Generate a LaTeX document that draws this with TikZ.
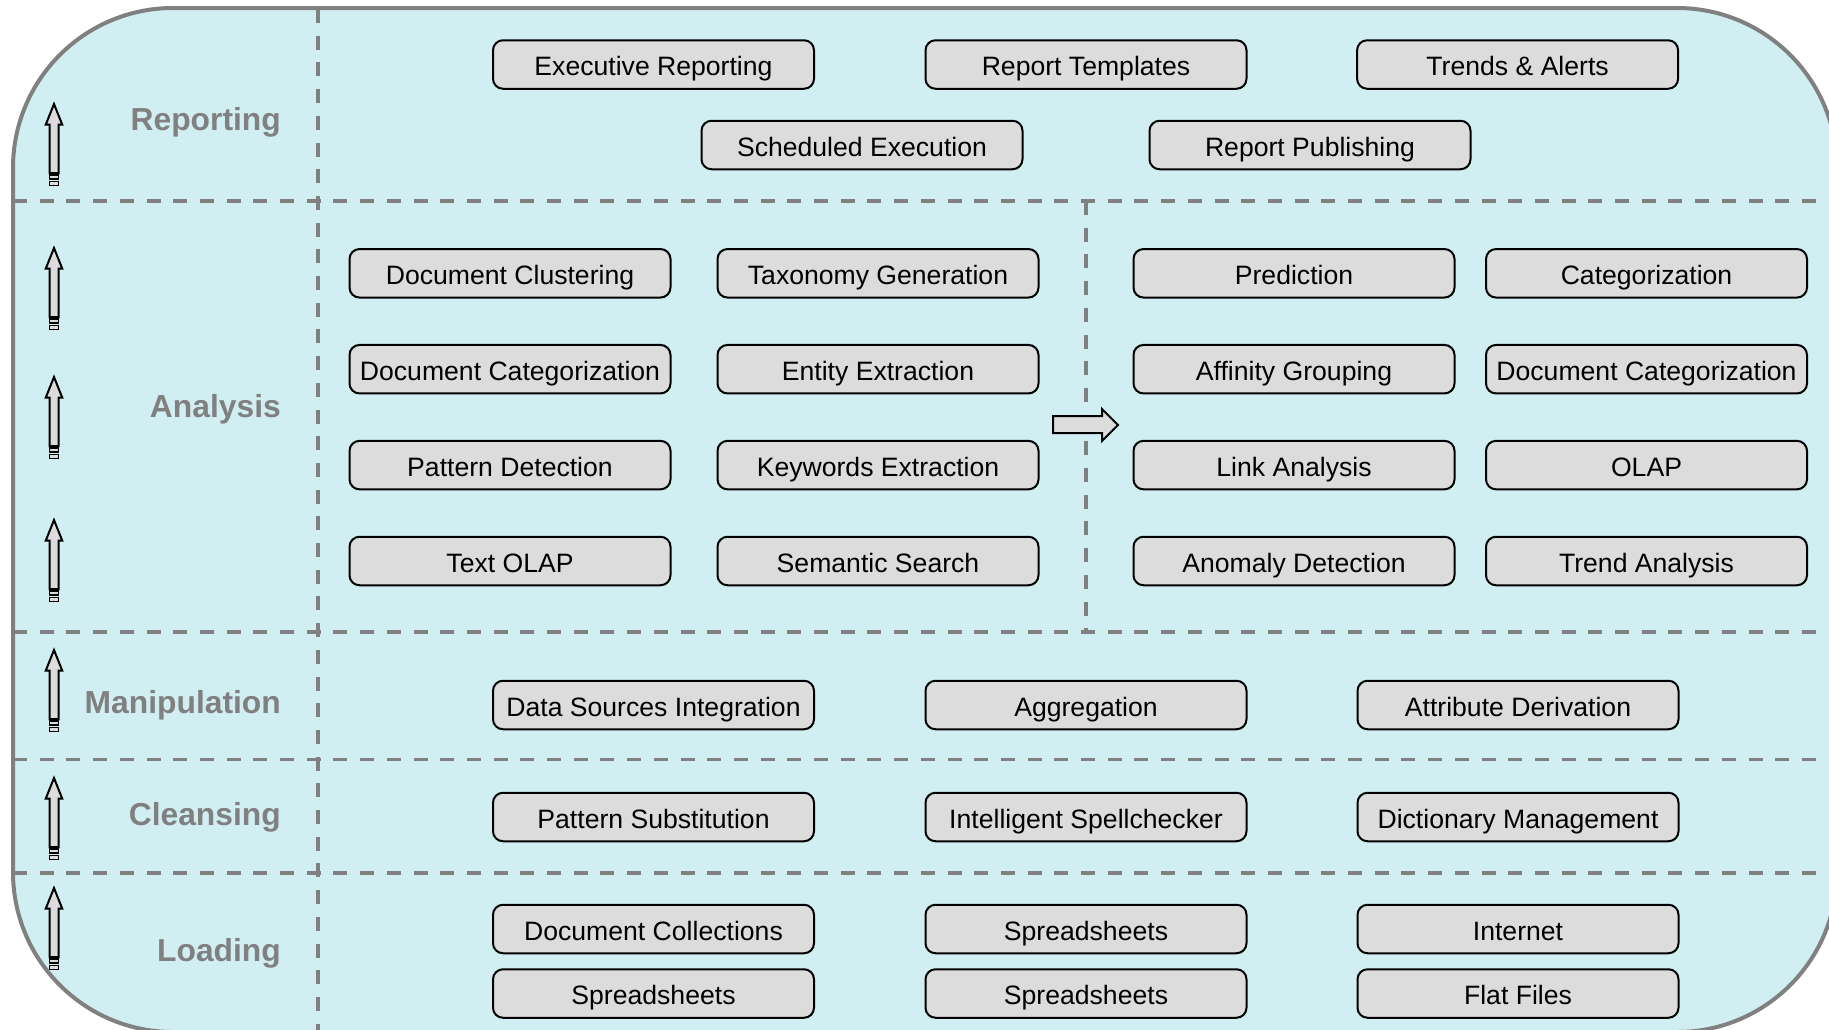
\documentclass[tikz,border=0pt]{standalone}
\usepackage{fontspec}
\setmainfont{Liberation Sans}
\definecolor{bgfill}{RGB}{209,239,242}
\definecolor{linegray}{RGB}{128,128,128}
\definecolor{boxfill}{RGB}{220,220,220}
\tikzset{
  stepbox/.style={draw=black, line width=2pt, fill=boxfill, rounded corners=10pt,
    minimum width=321pt, minimum height=48.5pt, inner sep=0pt,
    text height=26pt, text depth=3.4pt, font=\fontsize{26.6}{30}\selectfont},
  layerlabel/.style={anchor=base east, inner sep=0pt, text=linegray,
    font=\fontsize{31.8}{36}\selectfont\bfseries},
  sepline/.style={draw=linegray, line width=3.8pt, dash pattern=on 14pt off 12.7pt},
  blockarrow/.style={draw=black, line width=2pt, fill=boxfill, line join=miter},
  tailbar/.style={draw=black, line width=1.7pt, fill=boxfill},
  uparr/.pic={
    \draw[blockarrow] (0,0) -- (8.3,20.7) -- (4.5,20.7) -- (4.5,69) -- (-4.5,69)
      -- (-4.5,20.7) -- (-8.3,20.7) -- cycle;
    \draw[tailbar] (-4.5,70.8) rectangle (4.5,75);
    \draw[tailbar] (-4.5,77.6) rectangle (4.5,81.4);
  }
}
\begin{document}
\begin{tikzpicture}[x=1pt,y=-1pt]
\useasboundingbox (0,0) rectangle (1829,1029);
\begin{scope}
\clip (0,0) rectangle (1829,1029);
\fill[bgfill, rounded corners=160pt] (13,8) rectangle (1837,1032);
\begin{scope}
\clip[rounded corners=160pt] (13,8) rectangle (1837,1032);
\draw[sepline] (13,201) -- (1837,201);
\draw[sepline] (13,632) -- (1837,632);
\draw[sepline] (13,759.5) -- (1837,759.5);
\draw[sepline] (13,873) -- (1837,873);
\draw[sepline] (318,9) -- (318,1032);
\draw[sepline] (1086,201) -- (1086,632);
\end{scope}
\draw[linegray, line width=4pt, rounded corners=160pt] (13,8) rectangle (1837,1032);
\end{scope}

% layer labels
\node[layerlabel] (lrep) at (281,130) {Reporting};
\node[layerlabel] (lana) at (281,417.3) {Analysis};
\node[layerlabel] (lman) at (281,713) {Manipulation};
\node[layerlabel] (lcle) at (281,825) {Cleansing};
\node[layerlabel] (lloa) at (281,961.7) {Loading};

% left arrows
\pic (a1) at (54,104) {uparr};
\pic (a2) at (54,248) {uparr};
\pic (a3) at (54,377) {uparr};
\pic (a4) at (54,520) {uparr};
\pic (a5) at (54,650) {uparr};
\pic (a6) at (54,778) {uparr};
\pic (a7) at (54,888) {uparr};

% Reporting
\node[stepbox] (r1) at (653.5,64.5) {Executive Reporting};
\node[stepbox] (r2) at (1086,64.5) {Report Templates};
\node[stepbox] (r3) at (1517.6,64.5) {Trends \& Alerts};
\node[stepbox] (r4) at (862,145) {Scheduled Execution};
\node[stepbox] (r5) at (1310,145) {Report Publishing};

% Analysis left
\node[stepbox] (t1) at (510,273.3) {Document Clustering};
\node[stepbox] (t2) at (878,273.3) {Taxonomy Generation};
\node[stepbox] (t3) at (510,369.2) {Document Categorization};
\node[stepbox] (t4) at (878,369.2) {Entity Extraction};
\node[stepbox] (t5) at (510,465.1) {Pattern Detection};
\node[stepbox] (t6) at (878,465.1) {Keywords Extraction};
\node[stepbox] (t7) at (510,561) {Text OLAP};
\node[stepbox] (t8) at (878,561) {Semantic Search};

% Analysis right
\node[stepbox] (d1) at (1294,273.3) {Prediction};
\node[stepbox] (d2) at (1646.5,273.3) {Categorization};
\node[stepbox] (d3) at (1294,369.2) {Affinity Grouping};
\node[stepbox] (d4) at (1646.5,369.2) {Document Categorization};
\node[stepbox] (d5) at (1294,465.1) {Link Analysis};
\node[stepbox] (d6) at (1646.5,465.1) {OLAP};
\node[stepbox] (d7) at (1294,561) {Anomaly Detection};
\node[stepbox] (d8) at (1646.5,561) {Trend Analysis};

% middle block arrow
\draw[blockarrow] (1053,416) -- (1102,416) -- (1102,409) -- (1118,425) -- (1102,441)
  -- (1102,433) -- (1053,433) -- cycle;

% Manipulation
\node[stepbox] (m1) at (653.5,705) {Data Sources Integration};
\node[stepbox] (m2) at (1086,705) {Aggregation};
\node[stepbox] (m3) at (1518,705) {Attribute Derivation};

% Cleansing
\node[stepbox] (c1) at (653.5,817) {Pattern Substitution};
\node[stepbox] (c2) at (1086,817) {Intelligent Spellchecker};
\node[stepbox] (c3) at (1518,817) {Dictionary Management};

% Loading
\node[stepbox] (o1) at (653.5,929) {Document Collections};
\node[stepbox] (o2) at (1086,929) {Spreadsheets};
\node[stepbox] (o3) at (1518,929) {Internet};
\node[stepbox] (o4) at (653.5,993.5) {Spreadsheets};
\node[stepbox] (o5) at (1086,993.5) {Spreadsheets};
\node[stepbox] (o6) at (1518,993.5) {Flat Files};
\end{tikzpicture}
\end{document}
